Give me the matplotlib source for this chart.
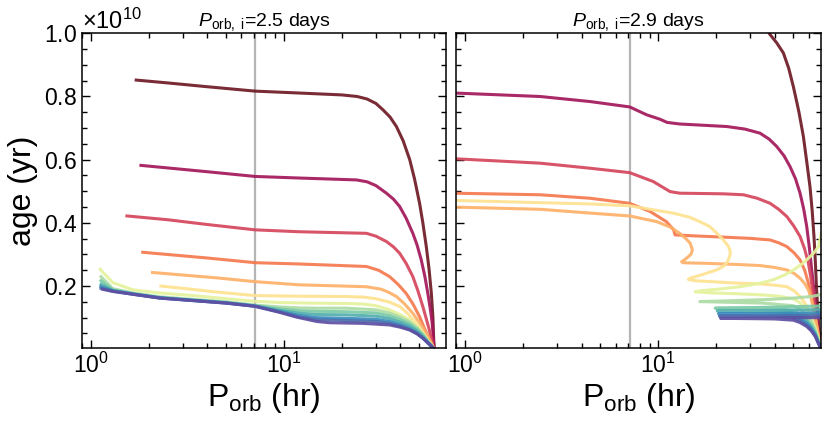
import matplotlib
matplotlib.use("Agg")
import numpy as np
import matplotlib.pyplot as plt
from matplotlib.ticker import MultipleLocator, ScalarFormatter

# === Data (age in units of 1e10 yr, Porb in hr) ===
P_START = 0.898
P_END = 69.6
P_BIF = 7.1

colors = ['#6e1a25', '#a3165a', '#d5455c', '#f5784d', '#fdb068', '#fee291',
          '#e5f39c', '#acdca5', '#7acaa6', '#52aead', '#3a8cbc', '#4a6fae', '#5e4fa2']

# --- left panel: Porb,i = 2.5 days ---
pl0 = [1.72, 2.5, 4.0, 7.1, 12, 20, 24, 27, 30, 32.6, 35.5, 38.3, 41.5, 44.9, 47.5, 50.5, 52.5, 54.7, 56.5, 58.1, 59.2, 60]
al0 = [0.852, 0.843, 0.831, 0.817, 0.811, 0.805, 0.80, 0.792, 0.778, 0.758, 0.735, 0.705, 0.66, 0.600, 0.54, 0.462, 0.40, 0.325, 0.255, 0.177, 0.10, 0.0]
pl1 = [1.82, 2.5, 4.0, 7.1, 12, 23.8, 27, 30, 34, 37, 39.8, 43, 46.6, 49, 51.5, 53.8, 55.7, 57.3, 58.5, 59.4, 60]
al1 = [0.582, 0.574, 0.562, 0.547, 0.542, 0.536, 0.53, 0.518, 0.494, 0.475, 0.452, 0.415, 0.367, 0.33, 0.283, 0.23, 0.177, 0.13, 0.09, 0.045, 0.0]
pl2 = [1.54, 2.5, 4.0, 7.1, 12, 26.8, 30, 34, 37, 39.8, 43, 46.6, 49.5, 52.5, 54.5, 56.5, 58.3, 60]
al2 = [0.422, 0.41, 0.395, 0.378, 0.372, 0.367, 0.358, 0.341, 0.324, 0.304, 0.272, 0.23, 0.185, 0.135, 0.1, 0.065, 0.032, 0.0]
pl3 = [1.86, 2.5, 4.0, 7.1, 12, 26.8, 31, 35.3, 39, 43, 46.8, 50.5, 53, 55, 57, 58.7, 60]
al3 = [0.307, 0.30, 0.289, 0.274, 0.27, 0.262, 0.25, 0.23, 0.206, 0.177, 0.142, 0.103, 0.072, 0.05, 0.03, 0.014, 0.0]
pl4 = [2.09, 3.0, 4.5, 7.1, 12, 26.8, 32, 35, 38.3, 42, 46.6, 49, 51, 53, 54.7, 56.5, 58, 60]
al4 = [0.243, 0.235, 0.226, 0.214, 0.204, 0.198, 0.19, 0.18, 0.167, 0.145, 0.114, 0.095, 0.08, 0.063, 0.05, 0.033, 0.02, 0.0]
pl5 = [2.31, 3.0, 4.5, 7.1, 12, 21, 26, 30, 35, 40, 44, 48.5, 51, 53, 55, 57, 58.7, 60]
al5 = [0.20, 0.193, 0.181, 0.17, 0.168, 0.167, 0.165, 0.16, 0.15, 0.135, 0.112, 0.082, 0.065, 0.05, 0.035, 0.02, 0.01, 0.0]
pl6 = [1.12, 1.30, 1.66, 2.3, 3.4, 5.05, 7.1, 9.5, 14, 21, 26, 30, 35.3, 40, 44.9, 49, 52.5, 56, 58.2, 60]
al6 = [0.253, 0.211, 0.188, 0.178, 0.17, 0.16, 0.152, 0.148, 0.146, 0.145, 0.143, 0.138, 0.125, 0.11, 0.093, 0.07, 0.05, 0.025, 0.012, 0.0]
pl_bundle = [1.13, 1.3, 1.66, 2.28, 3.4, 5.05, 7.1, 9.5, 12, 15, 21, 30, 35.3, 40, 44.9, 49, 52.5, 56, 58.2, 60]
al7 = [0.23, 0.192, 0.178, 0.166, 0.158, 0.15, 0.14, 0.134, 0.131, 0.13, 0.13, 0.125, 0.115, 0.102, 0.087, 0.068, 0.048, 0.025, 0.012, 0.0]
al8 = [0.217, 0.188, 0.176, 0.164, 0.156, 0.148, 0.138, 0.128, 0.122, 0.12, 0.119, 0.115, 0.106, 0.094, 0.08, 0.063, 0.045, 0.023, 0.011, 0.0]
al9 = [0.205, 0.186, 0.175, 0.163, 0.155, 0.147, 0.137, 0.123, 0.114, 0.11, 0.109, 0.105, 0.097, 0.086, 0.073, 0.058, 0.041, 0.021, 0.01, 0.0]
al10 = [0.198, 0.185, 0.175, 0.163, 0.155, 0.147, 0.137, 0.12, 0.107, 0.1, 0.098, 0.095, 0.088, 0.078, 0.066, 0.052, 0.037, 0.019, 0.009, 0.0]
al11 = [0.193, 0.184, 0.174, 0.162, 0.154, 0.146, 0.136, 0.118, 0.102, 0.094, 0.091, 0.088, 0.082, 0.073, 0.062, 0.049, 0.035, 0.018, 0.008, 0.0]
pl12 = [1.15, 1.3, 1.66, 2.28, 3.4, 5.05, 7.1, 9.5, 11.6, 14.8, 17.3, 25.7, 35.3, 40, 44.9, 49, 52.5, 56, 59.3, 60]
al12 = [0.19, 0.183, 0.174, 0.162, 0.154, 0.146, 0.136, 0.117, 0.102, 0.088, 0.084, 0.082, 0.077, 0.07, 0.061, 0.049, 0.035, 0.02, 0.006, 0.0]

# --- right panel: Porb,i = 2.9 days ---
pr0 = [34.0, 37.9, 41.0, 44.4, 47.3, 50.0, 52.0, 53.5, 55.0, 56.4, 58.8, 61.0, 62.6, 64.0, 65.0, 65.9, 67.0, 68.2, 69.6]
ar0 = [1.04, 0.996, 0.97, 0.938, 0.89, 0.832, 0.785, 0.75, 0.71, 0.673, 0.59, 0.515, 0.44, 0.357, 0.28, 0.198, 0.12, 0.04, 0.0]
pr1 = [0.88, 2.44, 4.43, 7.1, 8.7, 10.2, 11.1, 12.9, 22.6, 28, 33.6, 37.5, 41, 44.8, 48.1, 51.3, 54.2, 56.6, 58.7, 60.6, 62.3, 64.1, 65.7, 67.2, 68.5, 69.6]
ar1 = [0.811, 0.80, 0.784, 0.767, 0.742, 0.728, 0.718, 0.713, 0.705, 0.697, 0.684, 0.665, 0.642, 0.612, 0.578, 0.54, 0.494, 0.444, 0.388, 0.32, 0.251, 0.18, 0.114, 0.06, 0.02, 0.0]
pr2 = [0.88, 2.44, 4.43, 7.1, 9.4, 11.5, 12.9, 21.7, 27.6, 32.5, 37.9, 42, 46.3, 50.3, 54.2, 57.2, 59.9, 61.7, 63.3, 64.9, 66.3, 67.5, 68.5, 69.6]
ar2 = [0.603, 0.589, 0.573, 0.559, 0.531, 0.499, 0.494, 0.492, 0.489, 0.478, 0.462, 0.443, 0.42, 0.39, 0.357, 0.318, 0.272, 0.225, 0.177, 0.122, 0.072, 0.04, 0.015, 0.0]
pr3 = [0.88, 2.44, 4.43, 7.1, 9.06, 11.0, 12.0, 12.2, 15.2, 21.7, 30, 37.9, 42, 46.3, 50.5, 54.2, 57.3, 59.9, 62.0, 64.0, 65.6, 67.0, 68.3, 69.6]
ar3 = [0.494, 0.489, 0.478, 0.462, 0.436, 0.404, 0.378, 0.362, 0.359, 0.355, 0.351, 0.346, 0.337, 0.325, 0.305, 0.283, 0.25, 0.209, 0.168, 0.124, 0.085, 0.05, 0.02, 0.0]
pr4 = [0.88, 2.44, 4.43, 7.1, 9.8, 11.5, 12.9, 13.9, 14.6, 15.0, 14.8, 14.3, 13.7, 13.2, 13.4, 15.0, 17.8, 26.5, 33.6, 40, 46.3, 50.5, 54.2, 57.3, 59.9, 61.7, 63.3, 64.9, 66.3, 67.5, 68.5, 69.6]
ar4 = [0.45, 0.443, 0.431, 0.422, 0.404, 0.387, 0.367, 0.35, 0.336, 0.315, 0.302, 0.293, 0.284, 0.277, 0.274, 0.273, 0.272, 0.268, 0.265, 0.259, 0.251, 0.24, 0.225, 0.208, 0.188, 0.163, 0.135, 0.103, 0.072, 0.045, 0.02, 0.0]
pr5 = [0.88, 2.44, 4.43, 7.1, 11.9, 14.5, 16.4, 18.5, 20.1, 21.8, 23.1, 23.6, 23.4, 22.8, 21.7, 19.8, 17.8, 16.0, 14.6, 14.3, 15.5, 20, 26.5, 33.6, 40, 46.3, 50.5, 54.2, 57.3, 59.9, 62.5, 65.0, 66.8, 68, 69.6]
ar5 = [0.471, 0.464, 0.46, 0.454, 0.431, 0.418, 0.404, 0.388, 0.367, 0.345, 0.325, 0.308, 0.293, 0.277, 0.262, 0.25, 0.241, 0.232, 0.225, 0.221, 0.217, 0.213, 0.209, 0.207, 0.203, 0.198, 0.185, 0.167, 0.147, 0.124, 0.093, 0.061, 0.038, 0.02, 0.0]
pr6 = [69.6, 68.5, 67.0, 65.0, 62.0, 58.7, 54.0, 50, 42, 35, 25, 18, 15.5, 17, 21, 26.5, 33, 39.4, 45, 50.1, 56, 61.1, 64.5, 67.5, 69.6]
ar6 = [0.0, 0.017, 0.04, 0.068, 0.1, 0.125, 0.148, 0.16, 0.168, 0.172, 0.176, 0.179, 0.182, 0.186, 0.191, 0.198, 0.208, 0.22, 0.235, 0.251, 0.272, 0.293, 0.308, 0.325, 0.365]
pr7 = [69.6, 68.5, 67.0, 65.0, 62.0, 58.7, 54.0, 50, 35, 22, 16.4, 22, 35, 50, 62, 69.6]
ar7 = [0.0, 0.015, 0.035, 0.06, 0.088, 0.108, 0.128, 0.138, 0.146, 0.149, 0.151, 0.153, 0.157, 0.162, 0.167, 0.173]
pr8 = [69.6, 68.5, 67.0, 65.0, 62.0, 58.7, 54.0, 50.0, 40.0, 30.0, 19.7, 30.0, 45.0, 60.0, 69.6]
ar8 = [0.0, 0.013, 0.03, 0.053, 0.077, 0.095, 0.112, 0.122, 0.127, 0.129, 0.13, 0.132, 0.134, 0.136, 0.137]
pr9 = [69.6, 68.5, 67.0, 65.0, 62.0, 58.7, 54.0, 50.0, 40.0, 30.0, 20.2, 30.0, 45.0, 60.0, 69.6]
ar9 = [0.0, 0.012, 0.028, 0.049, 0.071, 0.089, 0.105, 0.114, 0.118, 0.12, 0.121, 0.122, 0.124, 0.125, 0.126]
pr10 = [69.6, 68.5, 67.0, 65.0, 62.0, 58.7, 54.0, 50.0, 40.0, 30.0, 20.5, 30.0, 45.0, 60.0, 69.6]
ar10 = [0.0, 0.012, 0.026, 0.046, 0.066, 0.082, 0.097, 0.105, 0.11, 0.111, 0.112, 0.113, 0.114, 0.115, 0.116]
pr11 = [69.6, 68.5, 67.0, 65.0, 62.0, 58.7, 54.0, 50.0, 40.0, 30.0, 20.7, 30.0, 45.0, 60.0, 69.6]
ar11 = [0.0, 0.011, 0.024, 0.043, 0.062, 0.077, 0.091, 0.099, 0.103, 0.104, 0.105, 0.106, 0.107, 0.107, 0.108]
pr12 = [69.6, 68.5, 67.0, 65.0, 62.0, 58.7, 54.0, 50.0, 40.0, 30.0, 21.0, 30.0, 45.0, 60.0, 69.6]
ar12 = [0.0, 0.01, 0.022, 0.04, 0.058, 0.072, 0.085, 0.092, 0.096, 0.097, 0.098, 0.099, 0.1, 0.1, 0.1]

left_tracks = [(pl0, al0), (pl1, al1), (pl2, al2), (pl3, al3), (pl4, al4), (pl5, al5), (pl6, al6),
               (pl_bundle, al7), (pl_bundle, al8), (pl_bundle, al9), (pl_bundle, al10),
               (pl_bundle, al11), (pl12, al12)]
right_tracks = [(pr0, ar0), (pr1, ar1), (pr2, ar2), (pr3, ar3), (pr4, ar4), (pr5, ar5), (pr6, ar6),
                (pr7, ar7), (pr8, ar8), (pr9, ar9), (pr10, ar10), (pr11, ar11), (pr12, ar12)]

# === Style ===
plt.rcParams['font.family'] = ['Liberation Sans', 'DejaVu Sans']
plt.rcParams['mathtext.fontset'] = 'custom'
plt.rcParams['mathtext.rm'] = 'Liberation Sans'
plt.rcParams['mathtext.it'] = 'Liberation Sans:italic'
plt.rcParams['mathtext.bf'] = 'Liberation Sans:bold'

fig = plt.figure(figsize=(8.31, 4.21), dpi=100)
ax1 = fig.add_axes([0.0983, 0.1741, 0.439, 0.7468])
ax2 = fig.add_axes([0.5491, 0.1741, 0.4389, 0.7468])

for ax, tracks, title in [(ax1, left_tracks, r"$P_{\rm orb,\ i}$=2.5 days"),
                          (ax2, right_tracks, r"$P_{\rm orb,\ i}$=2.9 days")]:
    ax.axvline(P_BIF, color='#b5b5b5', lw=1.6, zorder=1)
    for (p, a), c in zip(tracks, colors):
        ax.plot(p, np.array(a) * 1e10, color=c, lw=2.2, alpha=0.92, zorder=2,
                solid_joinstyle='round')
    ax.set_xscale('log')
    ax.set_xlim(P_START, P_END)
    ax.set_ylim(0.005e10, 1.0e10)
    ax.yaxis.set_major_locator(MultipleLocator(0.2e10))
    ax.yaxis.set_minor_locator(MultipleLocator(0.05e10))
    ax.tick_params(which='both', direction='in', top=True, right=True, labelsize=16.5)
    ax.tick_params(which='major', length=6, width=1)
    ax.tick_params(which='minor', length=3.5, width=1)
    for s in ax.spines.values():
        s.set_linewidth(1.1)
    ax.set_title(title, fontsize=14, pad=4)
    ax.set_xlabel(r"P$_{\rm orb}$ (hr)", fontsize=23, labelpad=2)

fmt = ScalarFormatter(useMathText=True)
ax1.yaxis.set_major_formatter(fmt)
ax1.yaxis.get_offset_text().set_fontsize(17)
ax1.set_ylabel("age (yr)", fontsize=23)

ax2.tick_params(labelleft=False)
ax2.yaxis.get_offset_text().set_visible(False)

fig.savefig("out.png", dpi=100)
